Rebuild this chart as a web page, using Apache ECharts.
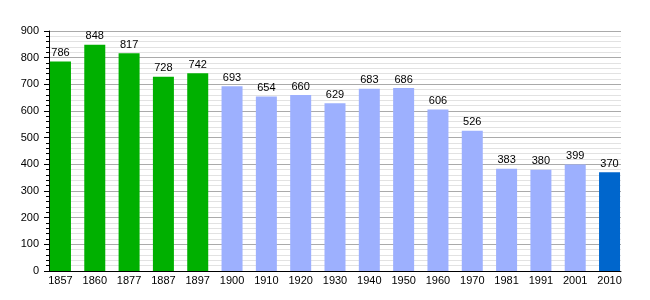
<!DOCTYPE html>
<html>
<head>
<meta charset="utf-8">
<script src="https://cdn.jsdelivr.net/npm/echarts@6/dist/echarts.min.js"></script>
<style>
html,body{margin:0;padding:0;background:#fff;}
#chart{width:650px;height:300px;}
</style>
</head>
<body>
<div id="chart"></div>
<script>
var years = ['1857','1860','1877','1887','1897','1900','1910','1920','1930','1940','1950','1960','1970','1981','1991','2001','2010'];
var population = [786, 848, 817, 728, 742, 693, 654, 660, 629, 683, 686, 606, 526, 383, 380, 399, 370];
var groupOf = ['a','a','a','a','a','b','b','b','b','b','b','b','b','b','b','b','c'];
var groupColors = {a: '#00B000', b: '#9DB0FE', c: '#0066CC'};
var yTicks = [0, 100, 200, 300, 400, 500, 600, 700, 800, 900];

var font = 'Liberation Sans, Arial, sans-serif';
var chart = echarts.init(document.getElementById('chart'), null, {renderer: 'canvas'});
chart.setOption({
  animation: false,
  backgroundColor: '#fff',
  grid: [
    {left: 49, right: 29, top: 31, bottom: 29},
    {left: 43.3, right: 23.3, top: 31, bottom: 29}
  ],
  xAxis: [
    {gridIndex: 0, type: 'value', min: 0, max: 1,
     axisLine: {show: true, lineStyle: {color: '#000', width: 1}},
     axisTick: {show: false}, axisLabel: {show: false}, splitLine: {show: false}},
    {gridIndex: 1, type: 'category', data: years,
     axisLine: {show: false}, axisTick: {show: false},
     axisLabel: {color: '#000', fontSize: 11, fontFamily: font, margin: 4, interval: 0}}
  ],
  yAxis: [
    {gridIndex: 0, type: 'value', min: yTicks[0], max: yTicks[yTicks.length - 1], interval: 100,
     axisLine: {show: true, lineStyle: {color: '#000', width: 1}},
     axisTick: {show: true, inside: false, length: 5, lineStyle: {color: '#000'}},
     minorTick: {show: true, splitNumber: 5, length: 3, lineStyle: {color: '#000'}},
     axisLabel: {color: '#000', fontSize: 11, fontFamily: font, margin: 10},
     splitLine: {show: true, lineStyle: {color: '#aaaaaa', width: 1}},
     minorSplitLine: {show: true, lineStyle: {color: '#e2e2e2', width: 1}}},
    {gridIndex: 1, type: 'value', min: yTicks[0], max: yTicks[yTicks.length - 1],
     show: false, splitLine: {show: false}}
  ],
  series: [{
    type: 'bar',
    xAxisIndex: 1, yAxisIndex: 1,
    barWidth: 21,
    data: population.map(function (v, i) {
      return {value: v, itemStyle: {color: groupColors[groupOf[i]]}};
    }),
    label: {show: true, position: 'top', distance: 3, color: '#000', fontSize: 11, fontFamily: font}
  }]
});
</script>
</body>
</html>
